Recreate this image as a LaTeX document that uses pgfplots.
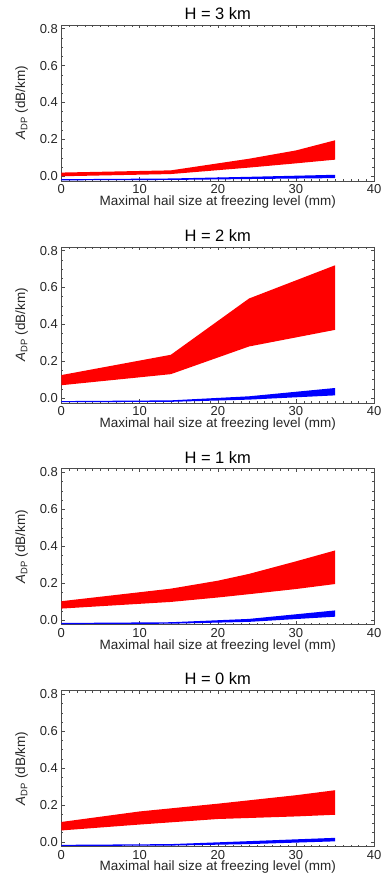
\documentclass[border=0pt]{standalone}
\usepackage{pgfplots}
\pgfplotsset{compat=1.18}
\usepgfplotslibrary{groupplots}
\usepackage{fontspec}
\setmainfont{Liberation Sans}
\begin{document}
\begin{tikzpicture}
\pgfplotsset{
  panel/.style={
    scale only axis, width=313pt, height=156pt,
    xmin=0, xmax=40, ymin=-0.025, ymax=0.82,
    xtick={0,10,20,30,40}, ytick={0,0.2,0.4,0.6,0.8},
    minor x tick num=9, minor y tick num=3,
    tick align=inside, xtick pos=both, ytick pos=both,
    major tick length=3.5pt, minor tick length=2pt,
    every tick/.style={black!70, line width=0.4pt},
    axis line style={black!70, line width=0.5pt},
    yticklabel style={/pgf/number format/.cd, fixed, fixed zerofill, precision=1},
    /pgf/number format/assume math mode=true,
    tick label style={font=\fontsize{13}{15}\selectfont, text=black!85},
    label style={font=\fontsize{13.5}{15}\selectfont, text=black!85},
    title style={font=\fontsize{16.5}{18}\selectfont, yshift=-4pt},
    xlabel={Maximal hail size at freezing level (mm)},
    ylabel={\textit{A}\textsubscript{DP} (dB/km)},
    xlabel style={yshift=5pt}, ylabel style={yshift=5pt},
  },
}
\begin{groupplot}[group style={group size=1 by 4, vertical sep=66pt}, panel]
\nextgroupplot[title={H = 3 km}]
\addplot[fill=red, draw=none] coordinates {(0,0.02) (14,0.032) (24,0.095) (30,0.14) (35,0.195) (35,0.09) (30,0.07) (24,0.047) (14,0.012) (0,0.0)} --cycle;
\addplot[fill=blue, draw=none] coordinates {(0,-0.016) (14,-0.012) (24,-0.003) (35,0.008) (35,-0.01) (24,-0.015) (14,-0.02) (0,-0.022)} --cycle;
\nextgroupplot[title={H = 2 km}]
\addplot[fill=red, draw=none] coordinates {(0,0.125) (14,0.235) (24,0.54) (35,0.72) (35,0.37) (24,0.28) (14,0.13) (0,0.07)} --cycle;
\addplot[fill=blue, draw=none] coordinates {(0,-0.016) (14,-0.012) (24,0.01) (35,0.055) (35,0.015) (24,-0.008) (14,-0.02) (0,-0.022)} --cycle;
\nextgroupplot[title={H = 1 km}]
\addplot[fill=red, draw=none] coordinates {(0,0.102) (14,0.17) (20,0.213) (24,0.25) (30,0.318) (35,0.377) (35,0.195) (30,0.168) (24,0.14) (20,0.122) (14,0.098) (0,0.062)} --cycle;
\addplot[fill=blue, draw=none] coordinates {(0,-0.016) (14,-0.012) (24,0.006) (35,0.052) (35,0.018) (24,-0.01) (14,-0.02) (0,-0.022)} --cycle;
\nextgroupplot[title={H = 0 km}]
\addplot[fill=red, draw=none] coordinates {(0,0.108) (10,0.165) (20,0.207) (30,0.253) (35,0.28) (35,0.147) (30,0.138) (20,0.124) (10,0.094) (0,0.062)} --cycle;
\addplot[fill=blue, draw=none] coordinates {(0,-0.016) (14,-0.012) (24,0.004) (35,0.022) (35,0.003) (24,-0.012) (14,-0.02) (0,-0.022)} --cycle;
\end{groupplot}
\path ([xshift=-12pt]current bounding box.west);
\path ([yshift=4pt]current bounding box.north);
\path ([yshift=-4pt]current bounding box.south);
\end{tikzpicture}
\end{document}
